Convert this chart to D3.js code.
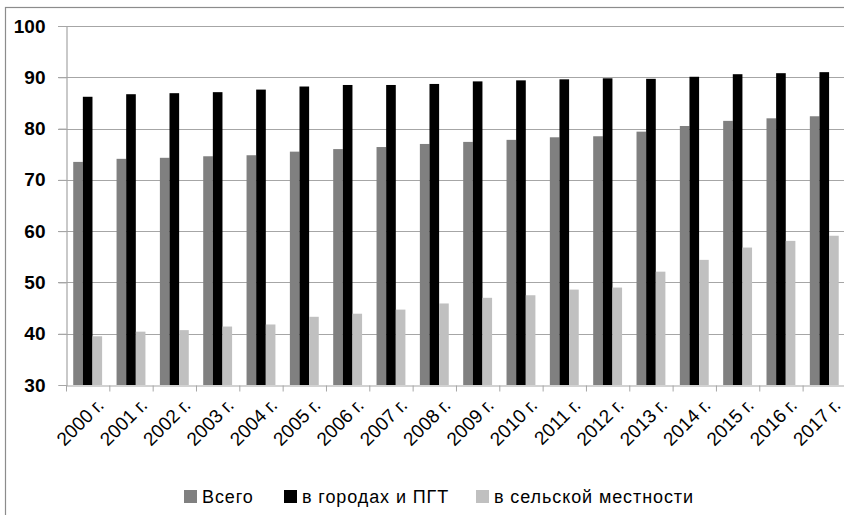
<!DOCTYPE html>
<html>
<head>
<meta charset="utf-8">
<script src="https://cdn.jsdelivr.net/npm/d3@7"></script>
<style>
  body { margin: 0; background: #fff; }
  svg { display: block; }
</style>
</head>
<body>
<div id="chart-area"></div>
<script>
// Data
const years = ["2000 г.", "2001 г.", "2002 г.", "2003 г.", "2004 г.", "2005 г.", "2006 г.", "2007 г.", "2008 г.",
  "2009 г.", "2010 г.", "2011 г.", "2012 г.", "2013 г.", "2014 г.", "2015 г.", "2016 г.", "2017 г."]
const seriesNames = ["Всего", "в городах и ПГТ", "в сельской местности"]
const total = [73.5, 74.1, 74.3, 74.6, 74.8, 75.5, 76.0, 76.4, 77.0, 77.4, 77.8, 78.3, 78.5, 79.4, 80.5, 81.5, 82.0, 82.4]
const urban = [86.2, 86.7, 86.9, 87.1, 87.6, 88.2, 88.5, 88.5, 88.7, 89.2, 89.4, 89.6, 89.8, 89.7, 90.1, 90.6, 90.8, 91.0]
const rural = [39.5, 40.4, 40.7, 41.4, 41.8, 43.3, 43.9, 44.7, 45.9, 47.0, 47.5, 48.6, 49.0, 52.1, 54.4, 56.8, 58.1, 59.1]
const yTicks = [30, 40, 50, 60, 70, 80, 90, 100]
const colors = ["#808080", "#000000", "#c0c0c0"]

const W = 844, H = 515
const MARGIN = { LEFT: 66, TOP: 26, BOTTOM: 385 }
const FONT = "Liberation Sans, Arial, sans-serif"

const svg = d3.select("#chart-area").append("svg")
  .attr("width", W)
  .attr("height", H)

// outer frame
svg.append("rect")
  .attr("x", 5.5).attr("y", 7.5)
  .attr("width", W + 20).attr("height", H + 20)
  .attr("fill", "none")
  .attr("stroke", "#8c8c8c")
  .attr("stroke-width", 1.2)

// Scales
const x0 = d3.scaleBand()
  .domain(years)
  .range([MARGIN.LEFT, MARGIN.LEFT + 18 * 43.33])
  .padding(0)
const bw = x0.bandwidth()
const x1 = d3.scaleBand()
  .domain(seriesNames)
  .range([bw / 6, bw * 5 / 6])
  .padding(0)
const y = d3.scaleLinear()
  .domain([30, 100])
  .range([MARGIN.BOTTOM, MARGIN.TOP])

// gridlines
svg.append("g")
  .selectAll("line")
  .data(yTicks.slice(1))
  .join("line")
  .attr("x1", MARGIN.LEFT - 8)
  .attr("x2", W)
  .attr("y1", d => Math.round(y(d)) + 0.5)
  .attr("y2", d => Math.round(y(d)) + 0.5)
  .attr("stroke", "#a6a6a6")
  .attr("stroke-width", 1.2)

// bars
const rows = years.map((yr, i) => ({ year: yr, values: [total[i], urban[i], rural[i]] }))
svg.append("g")
  .selectAll("g")
  .data(rows)
  .join("g")
  .attr("transform", d => `translate(${x0(d.year)},0)`)
  .selectAll("rect")
  .data(d => d.values.map((v, k) => ({ name: seriesNames[k], value: v, k: k })))
  .join("rect")
  .attr("x", d => x1(d.name))
  .attr("y", d => y(d.value))
  .attr("width", x1.bandwidth())
  .attr("height", d => y(30) - y(d.value))
  .attr("fill", d => colors[d.k])

// y axis
const yAx = svg.append("g")
  .attr("transform", `translate(${MARGIN.LEFT + 0.5},0)`)
  .call(d3.axisLeft(y).tickValues(yTicks).tickSize(8).tickPadding(13))
yAx.select(".domain").attr("stroke", "#a6a6a6").attr("stroke-width", 1.2)
yAx.selectAll(".tick line").attr("stroke", "#a6a6a6")
yAx.selectAll("text")
  .attr("font-family", FONT)
  .attr("font-weight", "bold")
  .attr("font-size", 19)
  .attr("fill", "#000")

// x axis
const xAx = svg.append("g")
  .attr("transform", `translate(0,${MARGIN.BOTTOM + 0.5})`)
  .call(d3.axisBottom(x0).tickSize(0).tickFormat(""))
xAx.select(".domain").attr("stroke", "#a6a6a6").attr("stroke-width", 1.2)
xAx.selectAll(".boundary")
  .data(d3.range(years.length + 1))
  .join("line")
  .attr("class", "boundary")
  .attr("x1", i => MARGIN.LEFT + i * bw + 0.5)
  .attr("x2", i => MARGIN.LEFT + i * bw + 0.5)
  .attr("y1", 0)
  .attr("y2", 6)
  .attr("stroke", "#a6a6a6")

svg.append("g")
  .selectAll("text")
  .data(years)
  .join("text")
  .attr("transform", d => `translate(${x0(d) + bw / 2 + 8},${MARGIN.BOTTOM + 12}) rotate(-45)`)
  .attr("text-anchor", "end")
  .attr("dy", "0.7em")
  .attr("font-family", FONT)
  .attr("font-size", 19)
  .text(d => d)

// legend
const legendX = [184, 284, 476]
const legend = svg.append("g")
  .selectAll("g")
  .data(seriesNames)
  .join("g")
  .attr("transform", (d, i) => `translate(${legendX[i]},490)`)
legend.append("rect")
  .attr("width", 13).attr("height", 13)
  .attr("fill", (d, i) => colors[i])
legend.append("text")
  .attr("x", 18)
  .attr("y", 13)
  .attr("font-family", FONT)
  .attr("font-size", 18)
  .attr("letter-spacing", 0.9)
  .text(d => d)
</script>
</body>
</html>
